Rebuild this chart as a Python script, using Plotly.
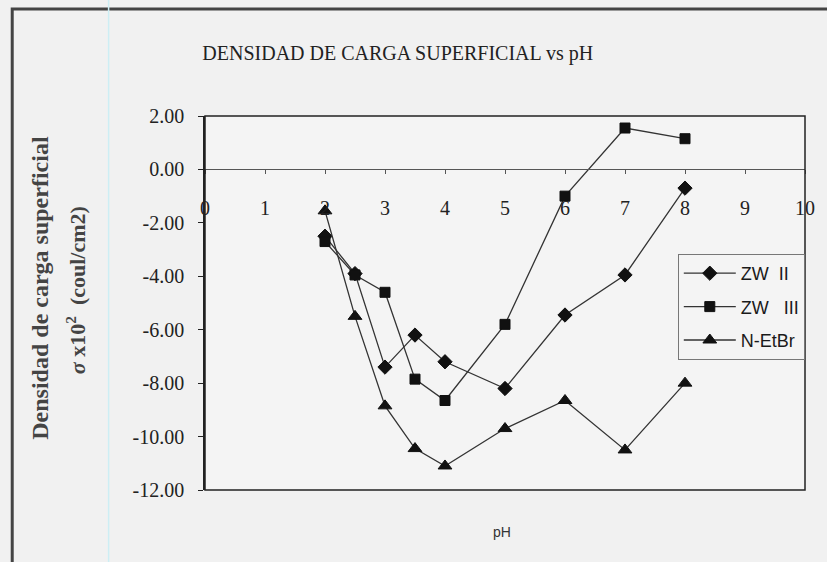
import plotly.graph_objects as go

ph = [2, 2.5, 3, 3.5, 4, 5, 6, 7, 8]
zw2 = [-2.5, -3.9, -7.4, -6.2, -7.2, -8.2, -5.45, -3.95, -0.7]
zw3 = [-2.7, -3.95, -4.6, -7.85, -8.65, -5.8, -1.0, 1.55, 1.15]
netbr = [-1.55, -5.5, -8.85, -10.45, -11.1, -9.7, -8.65, -10.5, -8.0]
y_ticks = [2, 0, -2, -4, -6, -8, -10, -12]

series = [
    ("ZW  II", zw2, "diamond", 11),
    ("ZW   III", zw3, "square", 10),
    ("N-EtBr", netbr, "triangle-up", 12),
]

fig = go.Figure()
for i, (name, vals, sym, sz) in enumerate(series):
    fig.add_trace(go.Scatter(
        x=ph, y=vals, name=name, mode="lines+markers", legendgroup=str(i),
        line=dict(color="#333333", width=1.3),
        marker=dict(symbol=sym, size=sz, color="#111111",
                    line=dict(color="#111111", width=1)),
    ))

serif = "Liberation Serif"
fig.update_layout(
    width=827, height=562,
    margin=dict(l=205, r=12, t=116, b=72),
    paper_bgcolor="#f1f1f1", plot_bgcolor="#f4f4f4",
    showlegend=True,
    legend=dict(x=0.788, y=0.631, xanchor="left", yanchor="top",
                bgcolor="#f4f4f4", bordercolor="#777777", borderwidth=1,
                font=dict(family="Liberation Sans", size=18, color="#1a1a1a"),
                itemwidth=52, tracegroupgap=7),
    xaxis=dict(range=[0, 10], dtick=1, anchor="free", position=12 / 14,
               showline=True, linecolor="#555555", linewidth=1,
               ticks="outside", ticklen=4, tickcolor="#555555",
               ticklabelstandoff=17, showgrid=False, zeroline=False,
               tickfont=dict(family=serif, size=20, color="#222222")),
    yaxis=dict(range=[-12, 2], tickvals=y_ticks,
               ticktext=[f"{v:.2f}" for v in y_ticks],
               showline=True, linecolor="#222222", linewidth=1.5,
               ticks="outside", ticklen=5, tickcolor="#222222",
               ticklabelstandoff=10, showgrid=False, zeroline=False,
               tickfont=dict(family=serif, size=20, color="#222222")),
    title=dict(text="DENSIDAD DE CARGA SUPERFICIAL vs pH",
               x=(401 - 205) / 610, xref="paper", xanchor="center",
               y=1 - 53 / 562, yanchor="middle",
               font=dict(family=serif, size=20, color="#222222")),
)

# plot frame, outer chart border and scan line
fig.add_shape(type="rect", xref="paper", yref="paper", x0=0, x1=1, y0=0, y1=1,
              line=dict(color="#222222", width=1.5))
fig.add_shape(type="path", xref="paper", yref="paper",
              path="M -0.3213,-0.3 L -0.3213,1.286 L 1.1,1.286",
              line=dict(color="#444444", width=3))
fig.add_shape(type="line", xref="paper", yref="paper",
              x0=(107 - 205) / 610, x1=(107 - 205) / 610, y0=-0.3, y1=1.4,
              line=dict(color="#cdeef4", width=1.5))

fig.add_annotation(text="<b>Densidad de carga superficial</b>", textangle=-90,
                   xref="paper", yref="paper", x=(37 - 205) / 610, y=(490 - 288) / 374,
                   xanchor="center", yanchor="middle",
                   showarrow=False, font=dict(family=serif, size=24, color="#444444"))
fig.add_annotation(text="<b><i>σ</i> x10<sup>2</sup>  (coul/cm2)</b>", textangle=-90,
                   xref="paper", yref="paper", x=(74 - 205) / 610, y=(490 - 290) / 374,
                   xanchor="center", yanchor="middle",
                   showarrow=False, font=dict(family=serif, size=22, color="#444444"))
fig.add_annotation(text="pH", xref="paper", yref="paper",
                   x=(507 - 205) / 610, y=(490 - 532) / 374,
                   xanchor="center", yanchor="middle", showarrow=False,
                   font=dict(family="Liberation Sans", size=14, color="#333333"))

fig.write_html("out.html", config={"displayModeBar": False},
               post_script="document.body.style.margin='0px';")
